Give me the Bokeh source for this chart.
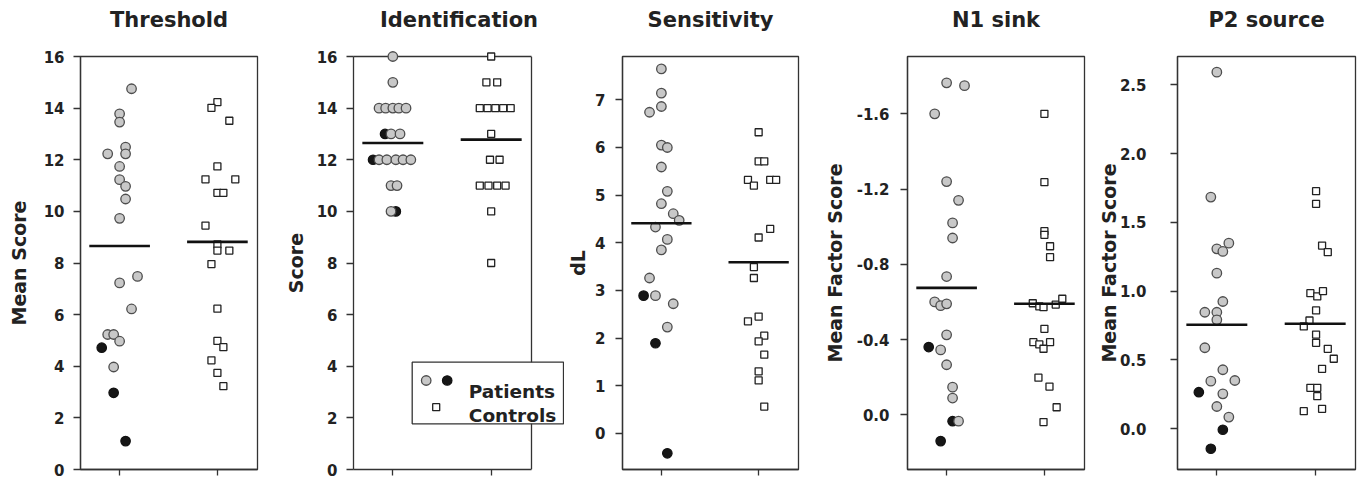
from bokeh.plotting import figure
from bokeh.layouts import row
from bokeh.models import (Range1d, FixedTicker, NumeralTickFormatter, BasicTickFormatter,
                          LinearAxis, Span, CustomLabelingPolicy)
from bokeh.core.properties import value
from bokeh.embed import file_html
from bokeh.resources import INLINE

# ------------------------------------------------------------------ data
groups = ["Patients", "Controls"]
group_x = [1, 2]

titles = ["Threshold", "Identification", "Sensitivity", "N1 sink", "P2 source"]
ylabels = ["Mean Score", "Score", "dL", "Mean Factor Score", "Mean Factor Score"]
legend_labels = ["Patients", "Controls"]

# Threshold
thr_pat_gray = [14.75, 13.78, 13.46, 12.49, 12.23, 12.23, 11.74, 11.23, 10.97, 10.48,
                9.73, 7.48, 7.23, 6.22, 5.23, 5.23, 4.97, 3.97]
thr_pat_gray_jit = [2, 0, 0, 1, -2, 1, 0, 0, 1, 1, 0, 3, 0, 2, -2, -1, 0, -1]
thr_pat_black = [4.72, 2.97, 1.10]
thr_pat_black_jit = [-3, -1, 1]
thr_ctl = [14.23, 14.01, 13.51, 11.74, 11.24, 11.24, 10.72, 10.72, 9.45, 8.72, 8.48, 8.48,
           7.96, 6.23, 4.98, 4.74, 4.23, 3.74, 3.23]
thr_ctl_jit = [0, -1, 2, 0, -2, 3, 0, 1, -2, 0, 0, 2, -1, 0, 0, 1, -1, 0, 1]
thr_means = [8.66, 8.82]
thr_yticks = [0, 2, 4, 6, 8, 10, 12, 14, 16]

# Identification
idn_pat_gray = [16, 15, 14, 14, 14, 14, 14, 13, 13, 12, 12, 12, 12, 12, 11, 11, 10]
idn_pat_gray_jit = [0, 0, -2.3, -1.2, 0, 1, 2.2, -0.3, 1.2, -2.3, -1, 0.5, 1.7, 3, -0.3, 0.7, -0.3]
idn_pat_black = [13, 12, 10]
idn_pat_black_jit = [-1.3, -3.3, 0.5]
idn_ctl = [16, 15, 15, 14, 14, 14, 14, 14, 13, 12, 12, 11, 11, 11, 11, 10, 8]
idn_ctl_jit = [0, -0.8, 1, -1.9, -0.6, 0.7, 2, 3.25, 0, -0.2, 1.4, -1.9, -0.45, 1, 2.4, 0, 0]
idn_means = [12.65, 12.78]
idn_yticks = [0, 2, 4, 6, 8, 10, 12, 14, 16]

# Sensitivity
sen_pat_gray = [7.65, 7.14, 6.86, 6.74, 6.05, 6.00, 5.59, 5.08, 4.82, 4.61, 4.47, 4.33,
                4.07, 3.85, 3.26, 2.89, 2.72, 2.23]
sen_pat_gray_jit = [0, 0, 0, -2, 0, 1, 0, 1, 0, 2, 3, -1, 1, 0, -2, -1, 2, 1]
sen_pat_black = [2.89, 1.89, -0.42]
sen_pat_black_jit = [-3, -1, 1]
sen_ctl = [6.32, 5.71, 5.71, 5.32, 5.20, 5.32, 5.32, 4.29, 4.11, 3.49, 3.26, 2.45, 2.35,
           2.05, 1.93, 1.65, 1.30, 1.11, 0.56]
sen_ctl_jit = [0, 0, 0.95, -1.8, -0.8, 1.95, 2.95, 1.95, 0, -0.8, -0.8, 0, -1.8, 0.95, 0,
               0.95, 0, 0, 0.95]
sen_means = [4.41, 3.59]
sen_yticks = [0, 1, 2, 3, 4, 5, 6, 7]

# N1 sink
n1_pat_gray = [-1.765, -1.75, -1.60, -1.24, -1.14, -1.02, -0.94, -0.735, -0.60, -0.58, -0.59,
               -0.425, -0.345, -0.266, -0.147, -0.089, 0.034]
n1_pat_gray_jit = [0, 3, -2, 0, 2, 1, 1, 0, -2, -1, 0, 0, -1, 0, 1, 1, 2]
n1_pat_black = [-0.36, 0.034, 0.14]
n1_pat_black_jit = [-3, 1, -1]
n1_ctl = [-1.60, -1.237, -0.976, -0.957, -0.896, -0.838, -0.593, -0.576, -0.572, -0.586,
          -0.617, -0.457, -0.386, -0.374, -0.386, -0.351, -0.197, -0.15, -0.04, 0.039]
n1_ctl_jit = [0, 0, 0, 0, 0.95, 0.95, -1.95, -0.85, -0.15, 1.9, 3, 0, -1.85, -0.85, 0.95,
              -0.15, -1, 0.85, 2.05, -0.15]
n1_means = [-0.675, -0.59]
n1_yticks = [-1.6, -1.2, -0.8, -0.4, 0.0]

# P2 source
p2_pat_gray = [2.592, 1.684, 1.308, 1.289, 1.349, 1.131, 0.925, 0.847, 0.847, 0.792, 0.589,
               0.429, 0.346, 0.351, 0.254, 0.162, 0.085]
p2_pat_gray_jit = [0, -1, 0, 1, 2, 0, 1, -2, 0, 0, -2, 1, -1, 3, 1, 0, 2]
p2_pat_black = [0.266, -0.007, -0.145]
p2_pat_black_jit = [-3, 1, -1]
p2_ctl = [1.727, 1.635, 1.332, 1.284, 0.986, 0.962, 1.0, 0.86, 0.787, 0.744, 0.685, 0.625,
          0.581, 0.509, 0.436, 0.298, 0.298, 0.237, 0.145, 0.128]
p2_ctl_jit = [0.15, 0.15, 1.15, 2.1, -0.8, 0.35, 1.3, 0.15, -0.95, -1.9, 0.15, 0.15, 2.1,
              3.1, 1.15, -0.8, 0.35, 0.35, 1.15, -1.9]
p2_means = [0.756, 0.763]
p2_yticks = [0.0, 0.5, 1.0, 1.5, 2.0, 2.5]

# ------------------------------------------------------------------ style / layout
FONT = "DejaVu Sans"
INK = "#222222"
FRAME = "#333333"
GRAY_FILL = "#c8c8c8"
GRAY_LINE = "#4d4d4d"
BLACK_FILL = "#161616"
STEP = 0.061          # horizontal jitter unit (data units)
HALF = 0.31           # half length of mean bar
XR = (0.6, 2.41)
FRAME_W = 178         # nominal frame width for XR
FRAME_H = 413
H = 483
MBT, MBB = 56, 14
TOP_SPACER = 17
CIRCLE_SIZE = 9.5
SQUARE_SIZE = 7

# panel 2 frame is widened to the right so that the key can overhang its box
P2_FRAME_W = 211
XR2 = (XR[0], XR[0] + (XR[1] - XR[0]) * P2_FRAME_W / FRAME_W)

layout = [
    dict(w=265, mbl=80, mbr=8, xr=XR, yr=(0, 16), ls=9, als=11, fmt=BasicTickFormatter()),
    dict(w=299, mbl=88, mbr=0, xr=XR2, yr=(0, 16), ls=9, als=7, fmt=BasicTickFormatter()),
    dict(w=242, mbl=58, mbr=8, xr=XR, yr=(-0.76, 7.91), ls=10, als=3, fmt=BasicTickFormatter()),
    dict(w=281, mbl=101, mbr=3, xr=XR, yr=(0.291, -1.905), ls=11, als=8,
         fmt=NumeralTickFormatter(format="0.0")),
    dict(w=275, mbl=90, mbr=7, xr=XR, yr=(-0.296, 2.706), ls=24, als=-3,
         fmt=NumeralTickFormatter(format="0.0")),
]

panels_data = [
    (thr_pat_gray, thr_pat_gray_jit, thr_pat_black, thr_pat_black_jit, thr_ctl, thr_ctl_jit, thr_means, thr_yticks),
    (idn_pat_gray, idn_pat_gray_jit, idn_pat_black, idn_pat_black_jit, idn_ctl, idn_ctl_jit, idn_means, idn_yticks),
    (sen_pat_gray, sen_pat_gray_jit, sen_pat_black, sen_pat_black_jit, sen_ctl, sen_ctl_jit, sen_means, sen_yticks),
    (n1_pat_gray, n1_pat_gray_jit, n1_pat_black, n1_pat_black_jit, n1_ctl, n1_ctl_jit, n1_means, n1_yticks),
    (p2_pat_gray, p2_pat_gray_jit, p2_pat_black, p2_pat_black_jit, p2_ctl, p2_ctl_jit, p2_means, p2_yticks),
]

NO_LABELS = "return []"


def style_line_axis(ax):
    ax.axis_line_color = FRAME
    ax.axis_line_width = 1.3
    ax.major_tick_line_color = FRAME
    ax.major_tick_line_width = 1.3
    ax.minor_tick_line_color = None


def make_panel(cfg, title, ylabel, data):
    gray, gray_jit, black, black_jit, ctl, ctl_jit, means, yticks = data
    p = figure(width=cfg["w"], height=H,
               min_border_left=cfg["mbl"], min_border_right=cfg["mbr"],
               min_border_top=MBT, min_border_bottom=MBB,
               x_range=Range1d(*cfg["xr"]), y_range=Range1d(*cfg["yr"]),
               output_backend="svg", toolbar_location=None, title=title)
    p.background_fill_color = "white"
    p.border_fill_color = "white"
    p.outline_line_color = FRAME
    p.outline_line_width = 1.3
    p.xgrid.visible = False
    p.ygrid.visible = False

    p.title.align = "center"
    p.title.text_font = FONT
    p.title.text_font_style = "bold"
    p.title.text_font_size = "21px"
    p.title.text_color = INK
    p.title.standoff = 8

    xa = p.below[0]
    xa.ticker = FixedTicker(ticks=group_x)
    xa.major_label_text_font_size = "1px"
    xa.major_label_policy = CustomLabelingPolicy(code=NO_LABELS)
    xa.major_label_standoff = 0
    xa.major_tick_out = 6
    xa.major_tick_in = 0
    style_line_axis(xa)

    ya = p.left[0]
    ya.ticker = FixedTicker(ticks=yticks)
    ya.formatter = cfg["fmt"]
    ya.major_tick_out = 7
    ya.major_tick_in = 0
    style_line_axis(ya)
    ya.major_label_standoff = cfg["ls"]
    ya.major_label_text_font = FONT
    ya.major_label_text_font_style = "bold"
    ya.major_label_text_font_size = "15px"
    ya.major_label_text_color = INK
    ya.axis_label = ylabel
    ya.axis_label_standoff = cfg["als"]
    ya.axis_label_text_font = FONT
    ya.axis_label_text_font_style = "bold"
    ya.axis_label_text_font_size = "19px"
    ya.axis_label_text_color = INK

    # invisible spacer between the frame and the title (also used as top border in panel 2)
    top_axis = LinearAxis(ticker=FixedTicker(ticks=group_x), major_tick_out=TOP_SPACER,
                          major_tick_in=0, major_label_standoff=0,
                          major_label_text_font_size="1px",
                          major_label_policy=CustomLabelingPolicy(code=NO_LABELS))
    style_line_axis(top_axis)
    top_axis.axis_line_color = None
    top_axis.major_tick_line_color = None
    p.add_layout(top_axis, "above")

    px_, cx_ = group_x
    rs = []
    rs.append(p.scatter(x=[px_ + j * STEP for j in black_jit], y=black, marker="circle",
                        size=CIRCLE_SIZE, fill_color=BLACK_FILL, line_color="#111111",
                        line_width=1.2))
    rs.append(p.scatter(x=[px_ + j * STEP for j in gray_jit], y=gray, marker="circle",
                        size=CIRCLE_SIZE, fill_color=GRAY_FILL, line_color=GRAY_LINE,
                        line_width=1.3))
    rs.append(p.scatter(x=[cx_ + j * STEP for j in ctl_jit], y=ctl, marker="square",
                        size=SQUARE_SIZE, fill_color="white", line_color=INK, line_width=1.3))
    rs.append(p.segment(x0=[g - HALF for g in group_x], y0=means,
                        x1=[g + HALF for g in group_x], y1=means,
                        line_color="#111111", line_width=2.6))
    for r in rs:
        r.level = "overlay"   # markers on the frame edge are not cut off
    return p, top_axis, xa


built = [make_panel(cfg, t, yl, d) for cfg, t, yl, d in zip(layout, titles, ylabels, panels_data)]
figs = [b[0] for b in built]

# ------------------------------------------------------------------ panel 2: box + key
p2f, p2top, p2bottom = built[1]
p2f.outline_line_color = None
p2bottom.bounds = XR
p2top.bounds = XR
p2top.axis_line_color = FRAME
p2f.add_layout(Span(location=XR[1], dimension="height", line_color=FRAME,
                    line_width=1.3, level="underlay"))

# key geometry in pixels from the frame's bottom-left corner
KX = (XR[1] - XR[0]) / FRAME_W
KY = 16 / float(FRAME_H)


def kx(px):
    return XR[0] + px * KX


def ky(py):
    return py * KY


key_box = dict(left=58.7, right=210.0, bottom=45.7, top=107.3)
p2f.quad(left=[kx(key_box["left"])], right=[kx(key_box["right"])],
         bottom=[ky(key_box["bottom"])], top=[ky(key_box["top"])],
         fill_color="white", line_color=FRAME, line_width=1.3)
p2f.scatter(x=[kx(72.7)], y=[ky(89)], marker="circle", size=CIRCLE_SIZE,
            fill_color=GRAY_FILL, line_color=GRAY_LINE, line_width=1.3)
p2f.scatter(x=[kx(93.7)], y=[ky(89)], marker="circle", size=CIRCLE_SIZE,
            fill_color=BLACK_FILL, line_color="#111111", line_width=1.2)
p2f.scatter(x=[kx(82.7)], y=[ky(62.3)], marker="square", size=SQUARE_SIZE,
            fill_color="white", line_color=INK, line_width=1.3)
p2f.text(x=[kx(115.3), kx(115.3)], y=[ky(78.3), ky(54)], text=legend_labels,
         text_font=value(FONT), text_font_style="bold", text_font_size="18.5px",
         text_color=INK, text_align="left", text_baseline="alphabetic")

page = row(*figs, spacing=0)
open("out.html", "w").write(file_html(page, INLINE))
